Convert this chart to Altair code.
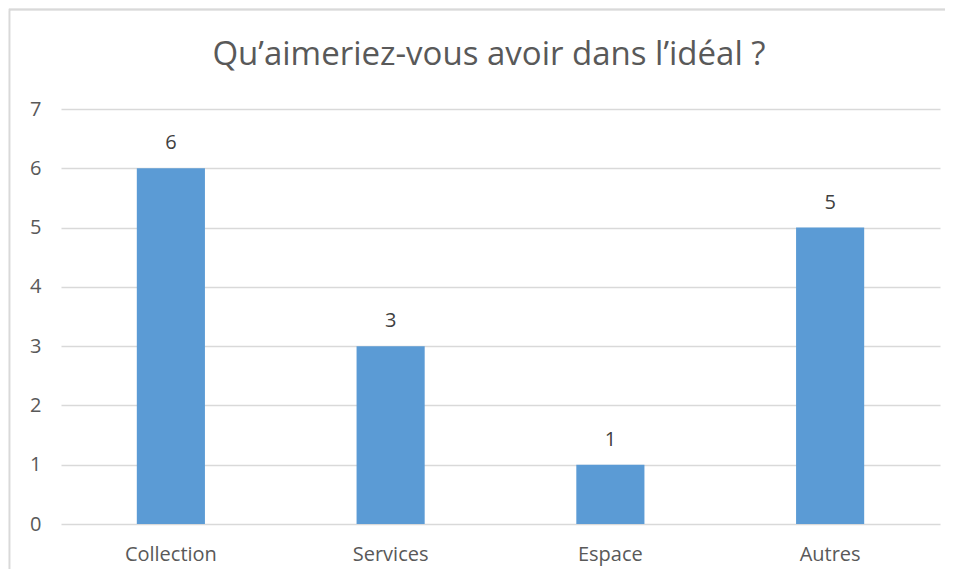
import altair as alt
import pandas as pd

categories = ["Collection", "Services", "Espace", "Autres"]
values = [6, 3, 1, 5]
title_text = "Qu’aimeriez-vous avoir dans l’idéal ?"

df = pd.DataFrame({"cat": categories, "val": values})

W, H = 879, 415
FONT = "Open Sans"
GREY = "#595959"

x = alt.X("cat:N", sort=categories,
          scale=alt.Scale(paddingInner=0.69, paddingOuter=0.345),
          axis=alt.Axis(title=None, labelAngle=0, labelFontSize=20, labelColor=GREY,
                        labelFont=FONT, labelPadding=20, domain=False, ticks=False, grid=False))
y = alt.Y("val:Q", scale=alt.Scale(domain=[0, 7], nice=False),
          axis=alt.Axis(title=None, values=list(range(8)), format="d", labelFontSize=20,
                        labelColor=GREY, labelFont=FONT, labelPadding=20, domain=False,
                        ticks=False, gridColor="#D9D9D9", gridWidth=1.3))

border = alt.Chart(df).mark_rect(fill=None, stroke="#D9D9D9", strokeWidth=1.3, clip=False).encode(
    x=alt.value(-51.5), x2=alt.value(W + 60), y=alt.value(-99.5), y2=alt.value(H + 80)
)

title = alt.Chart(pd.DataFrame({"t": [title_text]})).mark_text(
    fontSize=33, font=FONT, color=GREY, align="center", baseline="middle"
).encode(x=alt.value(428), y=alt.value(-54), text="t:N")

bars = alt.Chart(df).mark_bar(color="#5B9BD5").encode(x=x, y=y)
labels = alt.Chart(df).mark_text(dy=-25, fontSize=20, color="#404040", font=FONT).encode(
    x=alt.X("cat:N", sort=categories), y="val:Q", text="val:Q")

chart = alt.layer(border, title, bars, labels).properties(
    width=W, height=H,
    autosize=alt.AutoSizeParams(type="none"),
    padding={"left": 53, "top": 101, "right": 5, "bottom": 45},
).configure(background="white").configure_view(stroke=None)

chart.save("out.html", embed_options={"renderer": "svg", "actions": False})
